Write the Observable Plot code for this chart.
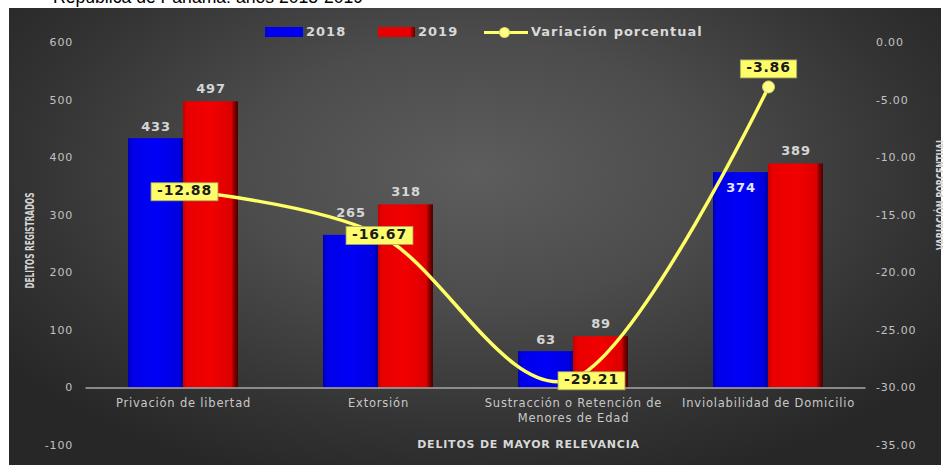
<!DOCTYPE html>
<html>
<head>
<meta charset="utf-8">
<script src="https://cdn.jsdelivr.net/npm/d3@7"></script>
<script src="https://cdn.jsdelivr.net/npm/@observablehq/plot@0.6"></script>
<style>
  body { margin: 0; background: #fff; }
  #wrap { position: relative; width: 943px; height: 465px; overflow: hidden; background: #fff; }
  #title { position: absolute; left: 53px; top: -12px; font: 17.6px "Liberation Sans", Arial, sans-serif; line-height: 18px; color: #000; white-space: nowrap; }
  #bg { position: absolute; left: 9px; top: 8px; width: 932px; height: 457px;
        background: radial-gradient(ellipse 62% 72% at 50% 36%, #5d5d5d 0%, #4c4c4c 40%, #333 78%, #272727 100%); }
  #chart { position: absolute; left: 0; top: 0; }
  #chart svg text { letter-spacing: 0.8px; }
  .lg { position: absolute; top: 24px; line-height: 16px; font: bold 13px "DejaVu Sans", sans-serif; color: #d9d9d9; letter-spacing: 1px; white-space: nowrap; }
  .sw { position: absolute; top: 27px; height: 10px; }
</style>
</head>
<body>
<div id="wrap">
  <div id="title">República de Panamá: años 2018-2019</div>
  <div id="bg"></div>
  <div id="chart"></div>
  <div id="legend"></div>
</div>
<script>
// ---- data ----
const categories = ["Privación de libertad", "Extorsión", "Sustracción o Retención de Menores de Edad", "Inviolabilidad de Domicilio"];
const categoryLabels = ["Privación de libertad", "Extorsión", "Sustracción o Retención de\nMenores de Edad", "Inviolabilidad de Domicilio"];
const delitos2018 = [433, 265, 63, 374];
const delitos2019 = [497, 318, 89, 389];
const variacion = [-12.88, -16.67, -29.21, -3.86];
const leftTicks = [-100, 0, 100, 200, 300, 400, 500, 600];
const rightTicks = [0, -5, -10, -15, -20, -25, -30, -35];
const seriesNames = ["2018", "2019", "Variación porcentual"];

// right axis [-35, 0] is laid onto the left axis [-100, 600]
const toLeft = p => -100 + (p + 35) * 20;
const inv = v => (v + 100) / 20 - 35;

const rows = categories.map((c, i) => ({
  cat: c, label: categoryLabels[i], v18: delitos2018[i], v19: delitos2019[i],
  pct: variacion[i], yp: toLeft(variacion[i])
}));

const LABEL_FILL = "#1b1b1c";
const narrow = "'Liberation Sans Narrow', 'DejaVu Sans Condensed', 'DejaVu Sans', sans-serif";
const valueStyle = { fill: "#d6d6d6", fontSize: 13, fontWeight: "bold" };
const pctStyle = { fill: LABEL_FILL, fontSize: 14, fontWeight: "bold" };

const svg = Plot.plot({
  width: 943,
  height: 465,
  marginLeft: 85.5,
  marginRight: 77.5,
  marginTop: 42,
  marginBottom: 20,
  style: { background: "transparent", color: "#c2c2c2", fontFamily: "DejaVu Sans" },
  x: { domain: categories, paddingInner: 0.436, paddingOuter: 0.218, axis: null },
  y: { domain: [-100, 600] },
  marks: [
    Plot.axisY({ anchor: "left", ticks: leftTicks, tickFormat: d => String(d), tickSize: 0, tickPadding: 13, fontSize: 11, label: null, color: "#c2c2c2" }),
    Plot.axisY({ anchor: "right", ticks: rightTicks.map(toLeft), tickFormat: v => inv(v).toFixed(2), tickSize: 0, tickPadding: 10, fontSize: 11, label: null, color: "#c2c2c2" }),
    Plot.barY(rows, { x: "cat", y: "v18", fill: "url(#gBlue)", insetRight: 55 }),
    Plot.barY(rows, { x: "cat", y: "v19", fill: "url(#gRed)", insetLeft: 55 }),
    Plot.ruleY([0], { stroke: "#a8a8a8", strokeWidth: 1.5 }),
    Plot.text(rows, { x: "cat", text: "label", y: 0, dy: 9, lineAnchor: "top", fill: "#c8c8c8", fontSize: 11.5, lineHeight: 1.25 }),
    // bar value labels
    Plot.text(rows.filter((d, i) => i === 0 || i === 2), { x: "cat", y: "v18", text: d => String(d.v18), dx: -27.5, dy: -12, ...valueStyle }),
    Plot.text(rows.filter((d, i) => i === 1), { x: "cat", y: "v18", text: d => String(d.v18), dx: -27.5, dy: -23, ...valueStyle }),
    Plot.text(rows.filter((d, i) => i === 3), { x: "cat", y: "v18", text: d => String(d.v18), dx: -27.5, dy: 15, ...valueStyle, fill: "#e4e4ff" }),
    Plot.text(rows, { x: "cat", y: "v19", text: d => String(d.v19), dx: 27.5, dy: -13, ...valueStyle }),
    // variation line
    Plot.line(rows, { x: "cat", y: "yp", curve: "cardinal", stroke: "#ffff66", strokeWidth: 3.5 }),
    Plot.dot(rows.filter((d, i) => i === 3), { x: "cat", y: "yp", r: 6, fill: "#ffff88", stroke: "#d8d860", strokeWidth: 1 }),
    // variation labels (boxed afterwards)
    Plot.text(rows.filter((d, i) => i < 2), { x: "cat", y: "yp", text: d => d.pct.toFixed(2), dx: 1, ...pctStyle }),
    Plot.text(rows.filter((d, i) => i === 2), { x: "cat", y: "yp", text: d => d.pct.toFixed(2), dx: 18, dy: 1, ...pctStyle }),
    Plot.text(rows.filter((d, i) => i === 3), { x: "cat", y: "yp", text: d => d.pct.toFixed(2), dy: -19, ...pctStyle }),
    // axis titles
    Plot.text(["DELITOS REGISTRADOS"], { text: d => d, frameAnchor: "left", dx: -56, dy: -3.5, rotate: -90, fill: "#d4d4d4", fontSize: 12.5, fontWeight: "bold", fontFamily: narrow }),
    Plot.text(["VARIACIÓN PORCENTUAL"], { text: d => d, frameAnchor: "right", dx: 75, dy: -50, rotate: -90, fill: "#d4d4d4", fontSize: 12.5, fontWeight: "bold", fontFamily: narrow }),
    Plot.text(["DELITOS DE MAYOR RELEVANCIA"], { text: d => d, frameAnchor: "bottom", dx: 52.5, dy: 2, fill: "#d8d8d8", fontSize: 11, fontWeight: "bold" })
  ]
});

document.getElementById("chart").appendChild(svg);

const ns = "http://www.w3.org/2000/svg";
const defs = document.createElementNS(ns, "defs");
defs.innerHTML = `
<linearGradient id="gBlue" x1="0" x2="1" y1="0" y2="0">
  <stop offset="0" stop-color="#0000b0"/>
  <stop offset="0.07" stop-color="#0000e8"/>
  <stop offset="0.5" stop-color="#0000f8"/>
  <stop offset="0.93" stop-color="#0000e0"/>
  <stop offset="1" stop-color="#00008c"/>
</linearGradient>
<linearGradient id="gRed" x1="0" x2="1" y1="0" y2="0">
  <stop offset="0" stop-color="#c40000"/>
  <stop offset="0.07" stop-color="#e80000"/>
  <stop offset="0.5" stop-color="#f20000"/>
  <stop offset="0.88" stop-color="#dc0000"/>
  <stop offset="0.93" stop-color="#8a0000"/>
  <stop offset="1" stop-color="#4a0000"/>
</linearGradient>`;
svg.insertBefore(defs, svg.firstChild);

// compress the narrow axis titles to the reference's length, keeping them centred
function squeeze(t, len) {
  t.style.letterSpacing = "0px";
  t.setAttribute("text-anchor", "start");
  t.setAttribute("x", String(-len / 2));
  t.setAttribute("textLength", String(len));
  t.setAttribute("lengthAdjust", "spacingAndGlyphs");
}
svg.querySelectorAll("text").forEach(t => {
  if (t.textContent === "DELITOS REGISTRADOS") squeeze(t, 96);
  else if (t.textContent === "VARIACIÓN PORCENTUAL") squeeze(t, 112);
});

// yellow boxes behind the variation labels
const labelTexts = [];
svg.querySelectorAll("g").forEach(g => {
  if ((g.getAttribute("fill") || "").toLowerCase() === LABEL_FILL) g.querySelectorAll("text").forEach(t => labelTexts.push(t));
});
labelTexts.forEach(t => {
  const bb = t.getBBox();
  const r = document.createElementNS(ns, "rect");
  r.setAttribute("x", bb.x - 6);
  r.setAttribute("y", bb.y + 0.5);
  r.setAttribute("width", bb.width + 12);
  r.setAttribute("height", bb.height + 2);
  r.setAttribute("fill", "#fdfd6c");
  r.setAttribute("stroke", "#a8a860");
  r.setAttribute("stroke-width", "0.8");
  const tr = t.getAttribute("transform");
  if (tr) r.setAttribute("transform", tr);
  t.parentNode.insertBefore(r, t);
});

// legend
const lg = document.getElementById("legend");
lg.innerHTML = `
  <div class="sw" style="left:265px;width:38px;background:#0000ee"></div>
  <div class="lg" style="left:306px">${seriesNames[0]}</div>
  <div class="sw" style="left:378px;width:37px;background:linear-gradient(90deg,#e80000 85%,#600000)"></div>
  <div class="lg" style="left:418px">${seriesNames[1]}</div>
  <div style="position:absolute;left:484px;top:30.5px;width:44px;height:3px;background:#ffff66"></div>
  <div style="position:absolute;left:500px;top:27.5px;width:9px;height:9px;border-radius:50%;background:#ffff88;box-shadow:0 0 0 1px #d8d860"></div>
  <div class="lg" style="left:531px">${seriesNames[2]}</div>`;
</script>
</body>
</html>
